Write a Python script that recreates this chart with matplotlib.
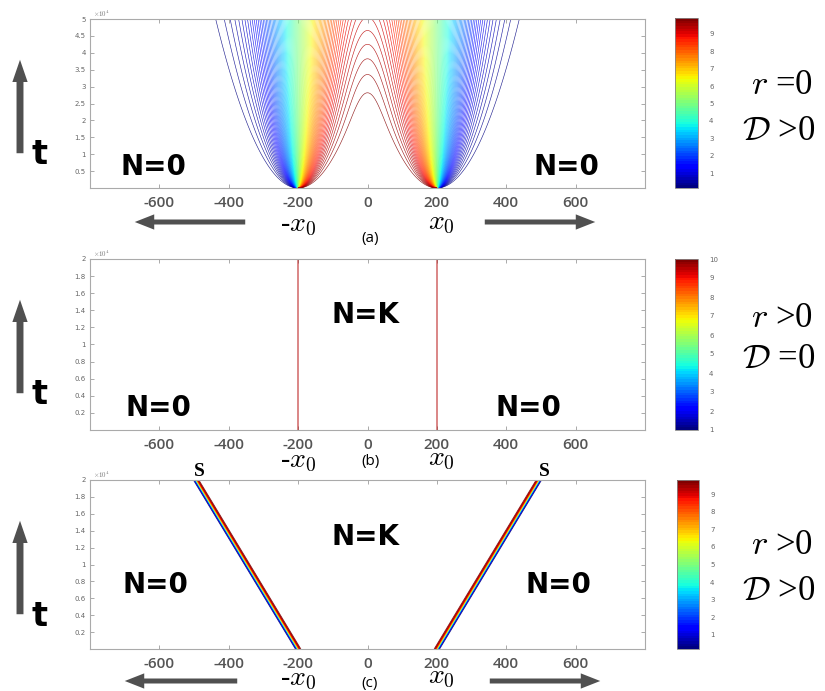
import math
import numpy as np
import matplotlib
matplotlib.use("Agg")
import matplotlib.pyplot as plt
from matplotlib.patches import FancyArrowPatch
from matplotlib.colors import Normalize
from matplotlib.cm import ScalarMappable

plt.rcParams["mathtext.fontset"] = "cm"

# model parameters
x0 = 200            # initial edges of the population at -x0 and x0
K = 10              # carrying capacity
D_a = 0.12          # diffusion coefficient, panel (a)
c_front = 0.0147    # front speed, panel (c)
w_front = 2.0       # front width, panel (c)
t_max = [5e4, 2e4, 2e4]

levels_a = np.linspace(0.15, 9.85, 90)
levels_b = [9.6]    # all levels sit on the same step, only the top one shows
levels_c = np.linspace(0.2, 9.8, 30)

cbar_range = [(0.14, 9.92), (1, 10), (0.2, 9.8)]
cbar_ticks = [list(range(1, 10)), list(range(1, 11)), list(range(1, 10))]

x_ticks = [-600, -400, -200, 0, 200, 400, 600]
y_ticks_a = [0.5, 1, 1.5, 2, 2.5, 3, 3.5, 4, 4.5, 5]
y_ticks_bc = [0.2, 0.4, 0.6, 0.8, 1, 1.2, 1.4, 1.6, 1.8, 2]

param_labels = [("=0", ">0"), (">0", "=0"), (">0", ">0")]

W, H = 825, 691
fig = plt.figure(figsize=(W / 100, H / 100), dpi=100)


def fx(px):
    return px / W


def fy(py):
    return 1 - py / H


def rect(l, t, r, b):
    return [fx(l), fy(b), (r - l) / W, (b - t) / H]


def arrow(p0, p1, tail, head_w, head_l):
    style = f"simple,head_length={head_l},head_width={head_w},tail_width={tail}"
    fig.add_artist(FancyArrowPatch(
        (fx(p0[0]), fy(p0[1])), (fx(p1[0]), fy(p1[1])),
        transform=fig.transFigure, color="#505050", lw=0,
        arrowstyle=style, mutation_scale=10))


# fields
x = np.linspace(-800, 800, 3201)
erf = np.vectorize(math.erf)

t_a = np.linspace(1, t_max[0], 300)
Xa, Ta = np.meshgrid(x, t_a)
s = np.sqrt(4 * D_a * Ta)
N_a = K / 2 * (erf((Xa + x0) / s) - erf((Xa - x0) / s))

t_bc = np.linspace(0, t_max[1], 200)
Xb, Tb = np.meshgrid(x, t_bc)
N_b = np.where(np.abs(Xb) < x0, K, 0.0)
N_c = K / (1 + np.exp((np.abs(Xb) - (x0 + c_front * Tb)) / w_front))

panels = [
    (Xa, Ta, N_a, levels_a, y_ticks_a, 0.45, 0.85),
    (Xb, Tb, N_b, levels_b, y_ticks_bc, 1.1, 0.6),
    (Xb, Tb, N_c, levels_c, y_ticks_bc, 0.6, 0.9),
]
ax_rects = [(90, 19, 645, 188), (90, 259, 645, 430), (90, 480, 645, 649)]
cb_rects = [(675, 18, 698, 188), (675, 259, 698, 430), (677, 480, 699, 649)]
rd_pos = [(85, 132), (319, 359), (545, 592)]

for i, (X, T, N, lev, yt, lw, al) in enumerate(panels):
    ax = fig.add_axes(rect(*ax_rects[i]))
    norm = Normalize(*cbar_range[i])
    ax.contour(X, T, N, levels=lev, cmap="jet", norm=norm,
               linewidths=lw, alpha=al)
    ax.set_xlim(-800, 800)
    ax.set_ylim(0, t_max[i])
    ax.set_xticks(x_ticks)
    ax.set_xticklabels([str(v) for v in x_ticks], fontsize=11,
                       color="#555555", family="Open Sans", weight="semibold")
    ax.set_yticks([v * 1e4 for v in yt])
    ax.set_yticklabels([f"{v:g}" for v in yt], fontsize=5, color="#666666")
    ax.tick_params(direction="in", length=3, width=0.5, color="#888888",
                   top=True, right=True, pad=3)
    ax.tick_params(axis="x", pad=6)
    for sp in ax.spines.values():
        sp.set_color("#aaaaaa")
        sp.set_linewidth(0.8)
    ax.text(0.005, 1.0, r"$\times10^4$", transform=ax.transAxes,
            fontsize=5, color="#777777", va="bottom")

    cax = fig.add_axes(rect(*cb_rects[i]))
    cb = fig.colorbar(ScalarMappable(norm=norm, cmap=plt.get_cmap("jet", 64)),
                      cax=cax, ticks=cbar_ticks[i])
    cb.ax.tick_params(labelsize=5, length=0, labelcolor="#666666", pad=8)
    cb.outline.set_edgecolor("#888888")
    cb.outline.set_linewidth(0.6)

    # r and D labels
    top = ax_rects[i][1]
    r_txt, d_txt = param_labels[i]
    yr, yd = rd_pos[i]
    fig.text(fx(782), fy(yr), r"$r$ " + r_txt, fontsize=25,
             family="Liberation Serif", ha="center", va="center")
    fig.text(fx(779), fy(yd), r"$\mathcal{D}$ " + d_txt, fontsize=25,
             family="Liberation Serif", ha="center", va="center")

    # t arrow
    arrow((20, top + 137), (20, top + 38), 0.5, 1.1, 1.6)
    fig.text(fx(40), fy(top + 136), "t", fontsize=24, weight="bold",
             family="DejaVu Sans", ha="center", va="center")

label_font = dict(fontsize=20, weight="bold", family="DejaVu Sans",
                  ha="center", va="center")
fig.text(fx(153), fy(167), "N=0", **label_font)
fig.text(fx(566), fy(167), "N=0", **label_font)
fig.text(fx(158), fy(408), "N=0", **label_font)
fig.text(fx(528), fy(408), "N=0", **label_font)
fig.text(fx(366), fy(315), "N=K", **label_font)
fig.text(fx(155), fy(585), "N=0", **label_font)
fig.text(fx(366), fy(537), "N=K", **label_font)
fig.text(fx(558), fy(585), "N=0", **label_font)

# x0 labels and panel letters
for yb, ylab, letter in [(231, 239, "(a)"), (467, 462, "(b)"), (685, 683, "(c)")]:
    fig.text(fx(298), fy(yb), r"-$x_0$", fontsize=20, family="Liberation Serif",
             ha="center", va="baseline")
    fig.text(fx(441), fy(yb - 2), r"$x_0$", fontsize=20, ha="center",
             va="baseline")
    fig.text(fx(370), fy(ylab), letter, fontsize=11, family="Open Sans",
             ha="center", va="center")

# direction arrows under panels (a) and (c)
for ya, xl0, xl1, xr0, xr1 in [(222, 248, 132, 482, 598), (681, 240, 122, 487, 603)]:
    arrow((xl0, ya), (xl1, ya), 0.36, 1.1, 1.4)
    arrow((xr0, ya), (xr1, ya), 0.36, 1.1, 1.4)

# S marks on front tips
fig.text(fx(199), fy(472), "S", fontsize=14, weight="bold",
         family="Liberation Serif", ha="center", va="center")
fig.text(fx(544), fy(472), "S", fontsize=14, weight="bold",
         family="Liberation Serif", ha="center", va="center")

fig.savefig("out.png", dpi=100)
